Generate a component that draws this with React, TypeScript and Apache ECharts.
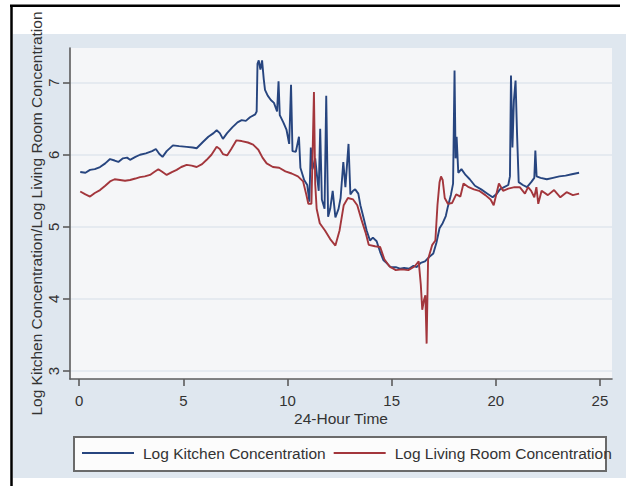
import React, { useEffect, useRef } from 'react';
import * as echarts from 'echarts';

const seriesNames = ['Log Kitchen Concentration', 'Log Living Room Concentration'];
const xTitle = '24-Hour Time';
const yTitle = 'Log Kitchen Concentration/Log Living Room Concentration';
const xTicks = [0, 5, 10, 15, 20, 25];
const yTicks = [3, 4, 5, 6, 7];

const kitchen: [number, number][] = [
  [0.05, 5.76], [0.3, 5.75], [0.52, 5.79], [0.75, 5.8], [1.0, 5.83], [1.25, 5.88], [1.48, 5.94], [1.7, 5.92],
  [1.88, 5.9], [2.1, 5.95], [2.3, 5.96], [2.44, 5.93], [2.7, 5.97], [2.92, 6.0], [3.2, 6.02], [3.5, 6.05],
  [3.68, 6.08], [3.85, 6.01], [4.0, 5.97], [4.2, 6.05], [4.5, 6.13], [4.8, 6.12], [5.16, 6.11], [5.45, 6.1],
  [5.64, 6.09], [5.95, 6.18], [6.2, 6.25], [6.45, 6.3], [6.6, 6.34], [6.75, 6.3], [6.9, 6.22], [7.1, 6.3],
  [7.35, 6.38], [7.6, 6.45], [7.8, 6.48], [8.0, 6.47], [8.2, 6.52], [8.45, 6.56], [8.52, 6.6],
  [8.56, 7.26], [8.62, 7.31], [8.7, 7.18], [8.78, 7.31], [8.86, 7.05], [8.92, 6.9], [9.05, 6.82], [9.2, 6.76],
  [9.35, 6.72], [9.5, 6.6], [9.57, 7.02], [9.63, 6.55], [9.8, 6.45], [9.95, 6.35], [10.08, 6.15], [10.17, 6.97],
  [10.24, 6.05], [10.4, 6.04], [10.55, 6.25], [10.62, 5.82], [10.8, 5.65], [10.95, 5.58], [11.05, 5.35],
  [11.12, 6.1], [11.2, 5.8], [11.33, 5.95], [11.42, 5.7], [11.5, 5.5], [11.57, 6.36], [11.65, 5.38],
  [11.78, 5.25], [11.86, 6.82], [11.95, 5.14], [12.05, 5.25], [12.17, 5.5], [12.3, 5.13], [12.45, 5.25],
  [12.55, 5.4], [12.68, 5.9], [12.78, 5.55], [12.93, 6.15], [13.02, 5.45], [13.15, 5.5], [13.25, 5.52],
  [13.4, 5.46], [13.5, 5.3], [13.64, 5.14], [13.8, 4.95], [13.96, 4.81], [14.1, 4.85], [14.28, 4.8],
  [14.45, 4.65], [14.6, 4.54], [14.75, 4.5], [14.95, 4.44], [15.2, 4.44], [15.4, 4.42], [15.6, 4.43],
  [15.85, 4.42], [16.05, 4.46], [16.2, 4.44], [16.4, 4.5], [16.6, 4.52], [16.8, 4.58], [17.0, 4.63],
  [17.15, 4.78], [17.3, 4.98], [17.45, 5.05], [17.6, 5.15], [17.7, 5.28], [17.85, 5.45], [17.95, 5.6],
  [18.02, 7.17], [18.07, 5.95], [18.12, 6.25], [18.2, 5.75], [18.35, 5.8], [18.55, 5.72], [18.75, 5.66],
  [19.0, 5.57], [19.3, 5.52], [19.6, 5.46], [19.85, 5.41], [20.05, 5.46], [20.2, 5.52], [20.4, 5.55],
  [20.6, 5.58], [20.68, 5.7], [20.73, 7.1], [20.8, 6.1], [20.87, 6.75], [20.95, 7.03], [21.02, 6.3],
  [21.1, 5.62], [21.3, 5.58], [21.5, 5.55], [21.7, 5.62], [21.85, 5.68], [21.9, 6.06], [21.96, 5.7],
  [22.15, 5.68], [22.45, 5.66], [22.75, 5.68], [23.05, 5.7], [23.35, 5.71], [23.65, 5.73], [24.0, 5.75],
];

const living: [number, number][] = [
  [0.05, 5.49], [0.3, 5.45], [0.52, 5.42], [0.75, 5.47], [1.0, 5.51], [1.25, 5.57], [1.48, 5.63], [1.7, 5.66],
  [1.96, 5.65], [2.2, 5.64], [2.44, 5.65], [2.7, 5.67], [2.92, 5.69], [3.15, 5.7], [3.4, 5.72], [3.6, 5.76],
  [3.8, 5.8], [4.0, 5.76], [4.2, 5.72], [4.45, 5.76], [4.68, 5.79], [4.9, 5.83], [5.16, 5.86], [5.4, 5.85],
  [5.64, 5.83], [5.9, 5.87], [6.12, 5.93], [6.35, 6.0], [6.6, 6.11], [6.75, 6.08], [6.9, 6.01], [7.1, 5.99],
  [7.3, 6.08], [7.55, 6.2], [7.8, 6.19], [8.1, 6.17], [8.35, 6.14], [8.6, 6.07], [8.8, 5.96], [9.0, 5.88],
  [9.3, 5.83], [9.6, 5.82], [9.9, 5.77], [10.2, 5.74], [10.5, 5.7], [10.75, 5.63], [10.9, 5.45], [11.0, 5.32],
  [11.15, 5.32], [11.22, 6.2], [11.27, 6.87], [11.33, 5.6], [11.4, 5.25], [11.55, 5.05], [11.8, 4.95],
  [12.05, 4.83], [12.3, 4.74], [12.5, 4.95], [12.7, 5.3], [12.9, 5.4], [13.15, 5.38], [13.35, 5.3],
  [13.55, 5.1], [13.75, 4.92], [13.9, 4.75], [14.2, 4.73], [14.45, 4.72], [14.65, 4.55], [14.9, 4.45],
  [15.2, 4.4], [15.5, 4.41], [15.8, 4.4], [16.1, 4.45], [16.3, 4.52], [16.4, 4.2], [16.47, 3.85],
  [16.55, 3.98], [16.62, 4.05], [16.68, 3.38], [16.75, 4.55], [16.95, 4.75], [17.1, 4.81], [17.2, 5.3],
  [17.3, 5.62], [17.37, 5.7], [17.45, 5.65], [17.55, 5.4], [17.7, 5.32], [17.9, 5.33], [18.1, 5.45],
  [18.3, 5.42], [18.45, 5.6], [18.7, 5.55], [18.95, 5.52], [19.2, 5.5], [19.5, 5.44], [19.75, 5.38],
  [19.9, 5.3], [20.0, 5.42], [20.15, 5.6], [20.35, 5.5], [20.6, 5.53], [20.9, 5.55], [21.15, 5.55],
  [21.4, 5.46], [21.55, 5.55], [21.7, 5.5], [21.85, 5.41], [21.95, 5.55], [22.04, 5.32], [22.2, 5.5],
  [22.5, 5.44], [22.8, 5.51], [23.1, 5.41], [23.4, 5.48], [23.7, 5.44], [24.0, 5.46],
];

const FONT = 'Liberation Sans, Arial, sans-serif';
const TEXT = '#333333';
const AXIS = '#5c5c5c';

export default function App() {
  const ref = useRef<HTMLDivElement>(null);
  useEffect(() => {
    const chart = echarts.init(ref.current!, null, { renderer: 'svg' });
    chart.setOption({
      animation: false,
      backgroundColor: '#ffffff',
      textStyle: { fontFamily: FONT },
      graphic: [
        { type: 'rect', z: -10, shape: { x: 13, y: 34, width: 613, height: 444 }, style: { fill: '#dfe7ef' } },
        { type: 'line', z: 10, shape: { x1: 11.5, y1: 5, x2: 11.5, y2: 486 }, style: { stroke: '#000', lineWidth: 2.5 } },
        { type: 'line', z: 10, shape: { x1: 10, y1: 5.8, x2: 620, y2: 5.8 }, style: { stroke: '#000', lineWidth: 2.5 } },
        { type: 'rect', z: 1, shape: { x: 74, y: 437, width: 532, height: 34 }, style: { fill: '#fcfcfc', stroke: '#6a6a6a', lineWidth: 2 } },
      ],
      grid: {
        left: 70, top: 48, right: 14, bottom: 107,
        show: true, backgroundColor: '#f5f6f8', borderWidth: 0,
      },
      legend: {
        data: seriesNames,
        left: 82, top: 445, padding: 0, z: 5,
        icon: 'rect', itemWidth: 52, itemHeight: 2, itemGap: 8,
        textStyle: { fontSize: 15.5, color: TEXT, fontFamily: FONT, padding: [0, 0, 0, 4] },
      },
      xAxis: {
        type: 'value', min: -0.442, max: 25.58,
        name: xTitle, nameLocation: 'middle', nameGap: 31, nameMoveOverlap: false,
        nameTextStyle: { fontSize: 15.5, color: TEXT, fontFamily: FONT },
        axisLine: { show: true, onZero: false, lineStyle: { color: AXIS, width: 1.6 } },
        axisTick: { show: true, length: 7, customValues: xTicks, lineStyle: { color: AXIS, width: 1.6 } },
        axisLabel: { customValues: xTicks, margin: 14, fontSize: 15, color: TEXT, fontFamily: FONT },
        splitLine: { show: false },
      },
      yAxis: {
        type: 'value', min: 2.889, max: 7.481,
        name: yTitle, nameLocation: 'middle', nameGap: 26, nameRotate: 90, nameMoveOverlap: false,
        nameTextStyle: { fontSize: 15.5, color: TEXT, fontFamily: FONT },
        axisLine: { show: true, onZero: false, lineStyle: { color: AXIS, width: 1.6 } },
        axisTick: { show: true, length: 7, customValues: yTicks, lineStyle: { color: AXIS, width: 1.6 } },
        axisLabel: { customValues: yTicks, rotate: 90, margin: 9, fontSize: 15, color: TEXT, fontFamily: FONT },
        splitLine: { show: true, lineStyle: { color: '#dfe6ee', width: 1.5 } },
      },
      series: [
        {
          name: seriesNames[0], type: 'line', data: kitchen, showSymbol: false, symbol: 'none',
          lineStyle: { color: '#27457f', width: 1.9 }, itemStyle: { color: '#27457f' },
        },
        {
          name: seriesNames[1], type: 'line', data: living, showSymbol: false, symbol: 'none',
          lineStyle: { color: '#a3363c', width: 1.9 }, itemStyle: { color: '#a3363c' },
        },
      ],
    });
    return () => chart.dispose();
  }, []);
  return <div ref={ref} style={{ position: 'fixed', left: 0, top: 0, width: 626, height: 486 }} />;
}
